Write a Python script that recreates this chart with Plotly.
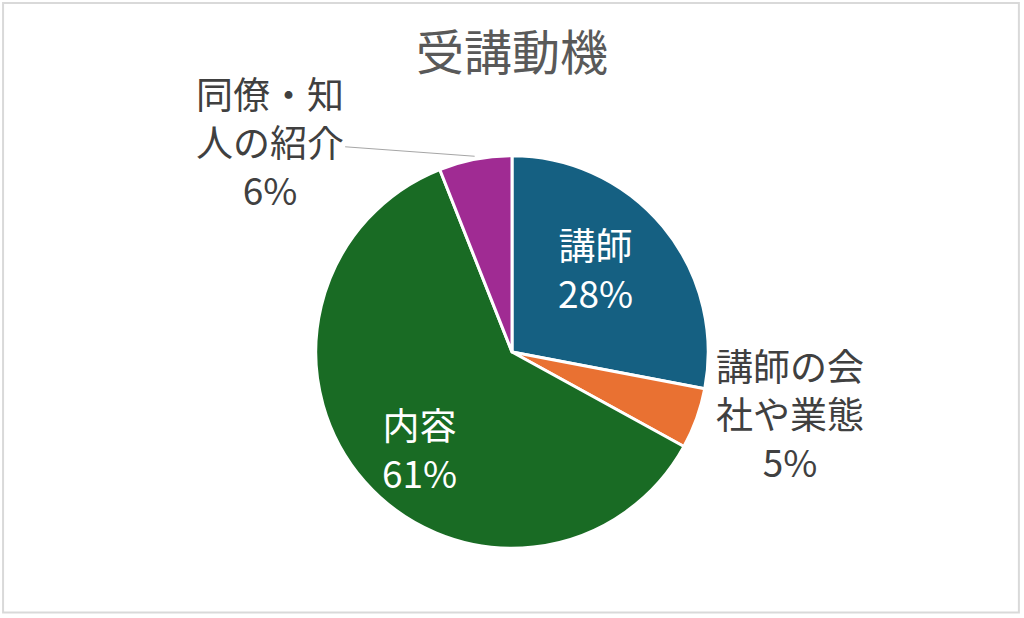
import math

import plotly.graph_objects as go

TITLE = "受講動機"
LABELS = ["講師", "講師の会社や業態", "内容", "同僚・知人の紹介"]
DISPLAY = ["講師", "講師の会<br>社や業態", "内容", "同僚・知<br>人の紹介"]
VALUES = [28, 5, 61, 6]
COLORS = ["#156082", "#E97132", "#196B24", "#A02B93"]
FONT = "Noto Sans CJK JP"

W, H = 1024, 618
PIE_Y = [0.113, 0.748]
LABEL_SIZE = 37
# label placement: (angle clockwise from 12 o'clock in degrees, distance from centre in px, colour)
LABEL_SPOTS = [
    (44.7, 118, "white"),
    (102.4, 285, "#404040"),
    (223.8, 133, "white"),
    (None, None, "#404040"),
]

fig = go.Figure(
    go.Pie(
        labels=LABELS,
        values=VALUES,
        textinfo="none",
        marker=dict(colors=COLORS, line=dict(color="white", width=3)),
        sort=False,
        direction="clockwise",
        rotation=0,
        showlegend=False,
        automargin=False,
        domain=dict(x=[0.0, 1.0], y=PIE_Y),
    )
)

total = sum(VALUES)
cx = 0.5
cy = (PIE_Y[0] + PIE_Y[1]) / 2
pie_r = (PIE_Y[1] - PIE_Y[0]) * H / 2


def polar(angle_deg, dist):
    a = math.radians(angle_deg)
    return cx + dist * math.sin(a) / W, cy + dist * math.cos(a) / H


for i, (angle, dist, color) in enumerate(LABEL_SPOTS):
    text = f"{DISPLAY[i]}<br>{VALUES[i] / total:.0%}"
    font = dict(size=LABEL_SIZE, color=color, family=FONT)
    if angle is None:
        # leader-line label anchored at the slice's arc midpoint
        mid = (sum(VALUES[:i]) + VALUES[i] / 2) / total * 360
        x, y = polar(mid, pie_r + 3)
        fig.add_annotation(
            x=x, y=y, xref="paper", yref="paper", text=text, font=font,
            showarrow=True, arrowhead=0, arrowwidth=1, arrowcolor="#a6a6a6",
            ax=-205, ay=-15,
        )
    else:
        x, y = polar(angle, dist)
        fig.add_annotation(
            x=x, y=y, xref="paper", yref="paper", text=text, font=font,
            showarrow=False, xanchor="center", yanchor="middle",
        )

fig.update_layout(
    width=W,
    height=H,
    autosize=False,
    margin=dict(l=0, r=0, t=0, b=0, pad=0),
    paper_bgcolor="white",
    font=dict(family=FONT, color="#404040"),
    title=dict(
        text=TITLE,
        x=0.5,
        xanchor="center",
        y=0.914,
        yanchor="middle",
        font=dict(size=48, color="#595959", family=FONT),
    ),
    shapes=[
        dict(
            type="rect",
            xref="paper",
            yref="paper",
            x0=0.003,
            x1=0.995,
            y0=0.009,
            y1=0.995,
            line=dict(color="#d9d9d9", width=2),
        )
    ],
)

fig.write_html(
    "out.html",
    config={"displayModeBar": False},
    post_script="document.body.style.margin = '0';",
)
